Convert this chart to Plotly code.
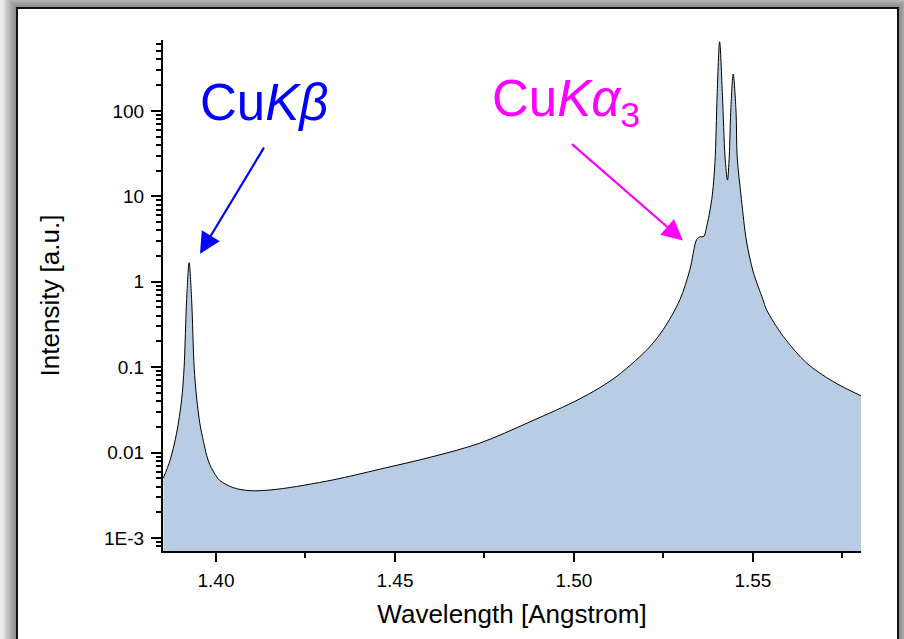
import plotly.graph_objects as go

# ---------------- data ----------------
wavelength = [1.3853, 1.3872, 1.3890, 1.3904, 1.3911, 1.3918, 1.3925, 1.3932, 1.3939,
              1.3946, 1.3955, 1.3965, 1.3974, 1.3983, 1.4002, 1.4011, 1.4047, 1.4095,
              1.4170, 1.4327, 1.4458, 1.4598, 1.4737, 1.4877, 1.5017, 1.5109, 1.5204,
              1.5249, 1.5296, 1.5324, 1.5343, 1.5352, 1.5363, 1.5370, 1.5385, 1.5394,
              1.5400, 1.5407, 1.5415, 1.5422, 1.5429, 1.5434, 1.5438, 1.5445, 1.5453,
              1.5456, 1.5468, 1.5482, 1.5501, 1.5528, 1.5538, 1.5585, 1.5650, 1.5724,
              1.5802]
intensity = [0.00504, 0.0082, 0.0169, 0.0415, 0.10, 0.616, 1.67, 0.616, 0.10,
             0.0436, 0.0219, 0.0135, 0.0093, 0.0072, 0.0052, 0.0047, 0.0039, 0.00358,
             0.00372, 0.00479, 0.0064, 0.0088, 0.0129, 0.0229, 0.0427, 0.0724, 0.160,
             0.274, 0.616, 1.39, 3.12, 3.35, 3.40, 4.27, 9.18, 25.0,
             150.0, 645.0, 150.0, 29.5, 15.5, 29.5, 96.0, 270.0, 96.0,
             29.5, 9.18, 3.0, 1.3, 0.62, 0.471, 0.229, 0.112, 0.0679,
             0.0462]

y_major_vals = [1e-3, 1e-2, 1e-1, 1, 10, 100]
y_major_text = ["1E-3", "0.01", "0.1", "1", "10", "100"]
y_minor_vals = [m * 10.0 ** d for d in range(-4, 3) for m in range(2, 10)]

label_kb = "Cu<i>K</i><i>β</i>"
label_ka3 = "Cu<i>K</i><i>α</i><sub>3</sub>"
x_title = "Wavelength [Angstrom]"
y_title = "Intensity [a.u.]"

# ---------------- layout geometry ----------------
W, H = 904, 639
ML, MR, MT, MB = 163, 43, 40, 88
PW, PH = W - ML - MR, H - MT - MB


def pxx(px):
    return (px - ML) / PW


def pxy(py):
    return (H - MB - py) / PH


FONT = "Liberation Sans, Arial, sans-serif"

fig = go.Figure()
fig.add_trace(go.Scatter(
    x=wavelength, y=intensity, mode="lines",
    line=dict(color="black", width=1, shape="spline", smoothing=0.9),
    fill="tozeroy", fillcolor="#B8CCE4",
    showlegend=False, hoverinfo="skip",
))

shapes = []
# soft shadow around the frame
for k in range(14, 0, -1):
    shapes.append(dict(
        type="rect", xref="paper", yref="paper", layer="below",
        x0=pxx(17 - k), x1=pxx(898 + k), y0=pxy(670), y1=pxy(8 - k),
        fillcolor="rgba(0,0,0,0.035)", line=dict(width=0),
    ))
# white frame with dark border
shapes.append(dict(
    type="rect", xref="paper", yref="paper", layer="below",
    x0=pxx(17), x1=pxx(898), y0=pxy(670), y1=pxy(8),
    fillcolor="white", line=dict(color="#111111", width=2),
))

annotations = [
    dict(x=1.39553, y=0.329, xref="x", yref="y", ax=67, ay=-111,
         showarrow=True, arrowhead=2, arrowsize=1.9, arrowwidth=2.2,
         arrowcolor="#0000FF", text=" "),
    dict(x=1.53045, y=0.482, xref="x", yref="y", ax=-114, ay=-99,
         showarrow=True, arrowhead=2, arrowsize=1.9, arrowwidth=2.2,
         arrowcolor="#FF00FF", text=" "),
    dict(x=pxx(264), y=pxy(102), xref="paper", yref="paper",
         text=label_kb, showarrow=False, xanchor="center", yanchor="middle",
         font=dict(family=FONT, size=51, color="#0000FF")),
    dict(x=pxx(566), y=pxy(102), xref="paper", yref="paper",
         text=label_ka3, showarrow=False, xanchor="center", yanchor="middle",
         font=dict(family=FONT, size=51, color="#FF00FF")),
]

fig.update_layout(
    width=W, height=H,
    margin=dict(l=ML, r=MR, t=MT, b=MB, pad=0),
    paper_bgcolor="#ececec", plot_bgcolor="white",
    font=dict(family=FONT, color="black"),
    shapes=shapes, annotations=annotations,
    showlegend=False,
)

fig.update_xaxes(
    range=[1.3852, 1.5802],
    tick0=1.40, dtick=0.05, tickformat=".2f",
    ticks="outside", ticklen=9, tickwidth=2, tickcolor="black",
    minor=dict(ticks="outside", ticklen=5, tickwidth=2, tickcolor="black", dtick=0.025, tick0=1.40),
    showline=True, linewidth=2, linecolor="black",
    showgrid=False, zeroline=False,
    tickfont=dict(family=FONT, size=19, color="black"),
    ticklabelstandoff=2,
    title=dict(text=x_title, font=dict(family=FONT, size=26, color="black"), standoff=15),
)

fig.update_yaxes(
    type="log", range=[-3.152, 2.83],
    tickvals=y_major_vals, ticktext=y_major_text,
    ticks="outside", ticklen=10, tickwidth=2, tickcolor="black",
    minor=dict(ticks="outside", ticklen=5, tickwidth=2, tickcolor="black", tickvals=y_minor_vals),
    showline=True, linewidth=2, linecolor="black",
    showgrid=False, zeroline=False,
    tickfont=dict(family=FONT, size=19, color="black"),
    ticklabelstandoff=3,
    title=dict(text=y_title, font=dict(family=FONT, size=26, color="black"), standoff=37),
)

fig.write_html("out.html")
